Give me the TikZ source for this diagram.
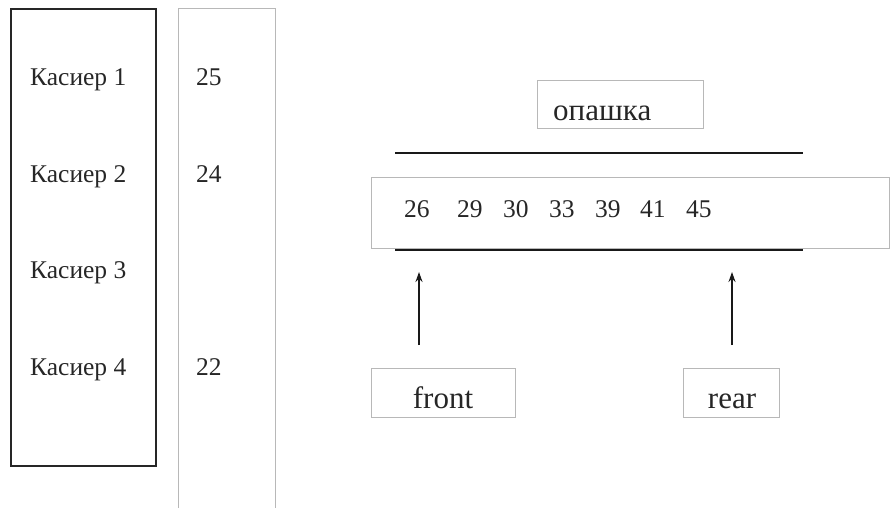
\documentclass[tikz,border=0pt]{standalone}
\usepackage{fontspec}
\setmainfont{Liberation Serif}
\usetikzlibrary{arrows.meta}
\begin{document}
\begin{tikzpicture}[x=1pt,y=-1pt,
  thickbox/.style={draw=black!85,line width=2.2pt},
  thinbox/.style={draw=black!28,line width=0.9pt},
  lbl/.style={inner sep=0pt,anchor=base west,font=\fontsize{25.5}{28}\selectfont,text=black!85},
  boxlbl/.style={thinbox,inner sep=0pt,font=\fontsize{30}{34}\selectfont,text=black!85},
  bar/.style={draw=black!90,line width=2.4pt},
  upar/.style={draw=black!90,line width=1.8pt,-{Stealth[length=10pt,width=7pt]}}]
\useasboundingbox (0,0) rectangle (890,508);
% cashier column
\draw[thickbox] (11,9) rectangle (156,466);
\draw[thinbox] (178,508) -- (178,8) -- (275,8) -- (275,508);
\node[lbl] (k1) at (30,86) {Касиер 1};
\node[lbl] (k2) at (30,182) {Касиер 2};
\node[lbl] (k3) at (30,278) {Касиер 3};
\node[lbl] (k4) at (30,375) {Касиер 4};
\node[lbl] (n1) at (196,86) {25};
\node[lbl] (n2) at (196,182) {24};
\node[lbl] (n4) at (196,375) {22};
% queue
\node[thinbox,minimum width=166pt,minimum height=48pt,inner sep=0pt] (qbox) at (620,104) {};
\node[inner sep=0pt,anchor=base west,font=\fontsize{31}{34}\selectfont,text=black!85] (qlbl) at (553,121) {опашка};
\coordinate (t1) at (395,153);
\coordinate (t2) at (803,153);
\draw[bar] (t1) -- (t2);
\node[thinbox,minimum width=518pt,minimum height=71pt,inner sep=0pt] (nbox) at (630,212.5) {};
\coordinate (b1) at (395,250);
\coordinate (b2) at (803,250);
\draw[bar] (b1) -- (b2);
\foreach \v/\x in {26/404,29/457,30/503,33/549,39/595,41/640,45/686}
  \node[inner sep=0pt,anchor=base west,font=\fontsize{25.5}{28}\selectfont,text=black!85] (q\v) at (\x,217) {\v};
% front / rear
\node[boxlbl,minimum width=144pt,minimum height=49pt] (front) at (443,392.5) {};
\node[inner sep=0pt,anchor=base,font=\fontsize{31}{34}\selectfont,text=black!85] (frontl) at (443,408) {front};
\node[boxlbl,minimum width=96pt,minimum height=49pt] (rear) at (731,392.5) {};
\node[inner sep=0pt,anchor=base,font=\fontsize{31}{34}\selectfont,text=black!85] (rearl) at (732,408) {rear};
\coordinate (fa1) at (419,345);
\coordinate (fa2) at (419,272);
\coordinate (ra1) at (732,345);
\coordinate (ra2) at (732,272);
\draw[upar] (fa1) -- (fa2);
\draw[upar] (ra1) -- (ra2);
\end{tikzpicture}
\end{document}
